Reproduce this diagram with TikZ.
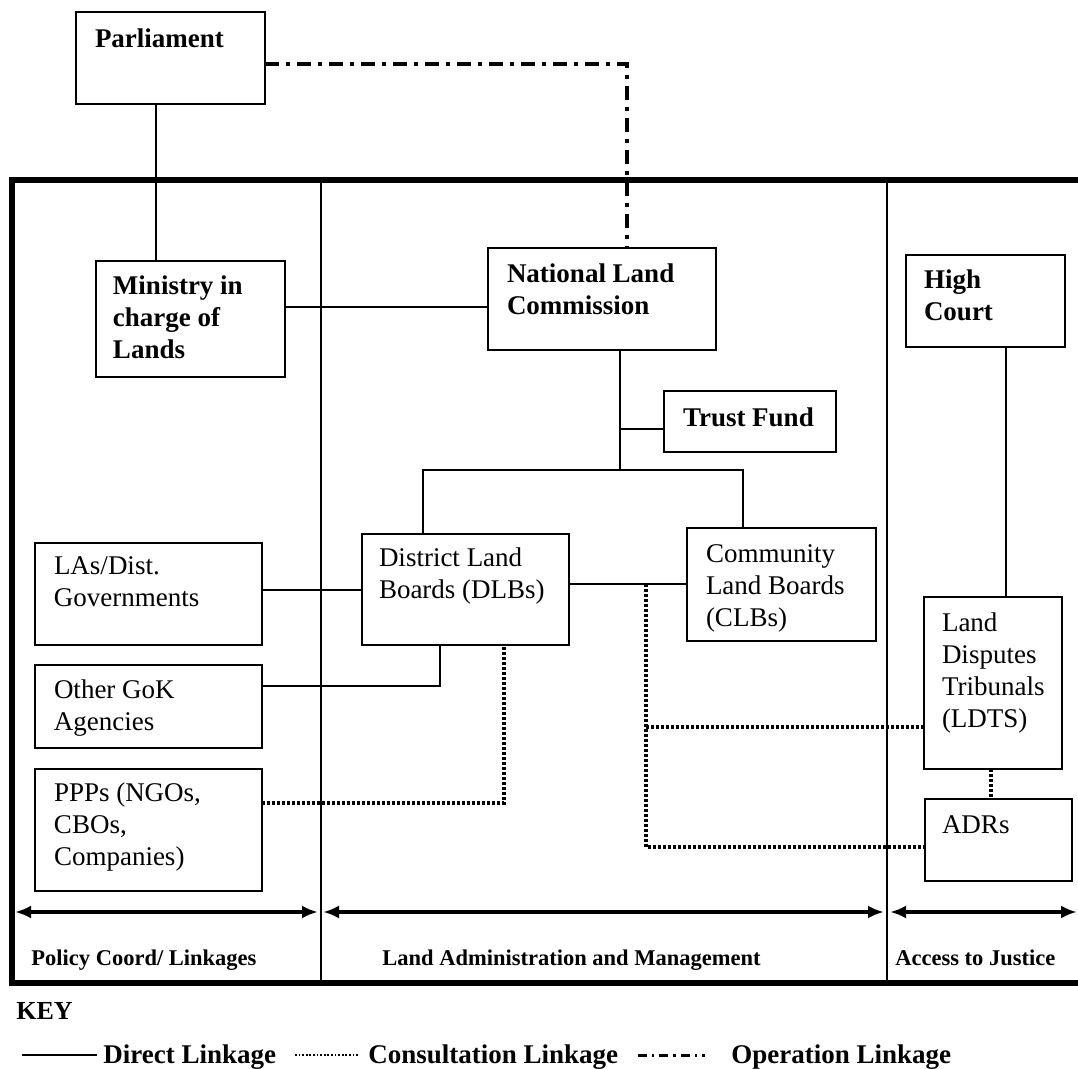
\documentclass[tikz,border=0pt]{standalone}
\usepackage{fontspec}
\setmainfont{Liberation Serif}
\usetikzlibrary{arrows.meta}
\newcommand{\bx}[5]{\parbox[c][#2pt][t]{#1pt}{\raggedright\leftskip=#3pt\rule{0pt}{#4pt}#5}}
\tikzset{
  box/.style={draw, line width=0.8pt, inner sep=0pt, outer sep=0pt, anchor=north west,
    font=\fontsize{13.5}{16}\selectfont},
  ln/.style={line width=0.75pt},
  frame/.style={line width=2.6pt},
  dotln/.style={line width=1.9pt, dash pattern=on 1.4pt off 1.1pt},
  opln/.style={line width=1.9pt, dash pattern=on 7pt off 3.5pt on 2pt off 3.5pt},
  arr/.style={line width=1.6pt, {Latex[length=8pt,width=6.5pt]}-{Latex[length=8pt,width=6.5pt]}},
  lab/.style={anchor=base west, inner sep=0pt, font=\fontsize{11.25}{13}\selectfont\bfseries},
  keytxt/.style={anchor=base west, inner sep=0pt, font=\fontsize{13.5}{16}\selectfont\bfseries},
}
\begin{document}
\begin{tikzpicture}[x=0.5pt,y=-0.5pt]
\clip (0,0) rectangle (1078,1069);
\fill[white] (0,0) rectangle (1078,1069);

% frame and column dividers
\draw[frame] (1095,180) -- (12,180) -- (12,983) -- (1095,983);
\draw[ln] (321,180) -- (321,983);
\draw[ln] (887,180) -- (887,983);

% boxes
\node[box] (parl) at (76,12)   {\bx{94.5}{46}{9.5}{18}{\textbf{Parliament}}};
\node[box] (min)  at (96,261)  {\bx{94.5}{58}{8.5}{17}{\textbf{Ministry in\\charge of\\Lands}}};
\node[box] (nlc)  at (488,248) {\bx{114}{51}{9.5}{17.5}{\textbf{National Land\\Commission}}};
\node[box] (tf)   at (664,391) {\bx{86}{30.5}{9.5}{18}{\textbf{Trust Fund}}};
\node[box] (hc)   at (906,255) {\bx{79.5}{46}{9}{17}{\textbf{High\\Court}}};
\node[box] (las)  at (35,543)  {\bx{113.5}{51}{9.5}{16}{LAs/Dist.\\Governments}};
\node[box] (gok)  at (35,665)  {\bx{113.5}{41.5}{9.5}{17}{Other GoK\\Agencies}};
\node[box] (ppp)  at (35,769)  {\bx{113.5}{61}{9.5}{16.5}{PPPs (NGOs,\\CBOs,\\Companies)}};
\node[box] (dlb)  at (362,534) {\bx{103.5}{55.5}{8.5}{16.5}{District Land\\Boards (DLBs)}};
\node[box] (clb)  at (687,528) {\bx{94.5}{56.5}{9.5}{17.5}{Community\\Land Boards\\(CLBs)}};
\node[box] (ldts) at (924,597) {\bx{69}{86}{9}{17.5}{Land\\Disputes\\Tribunals\\(LDTS)}};
\node[box] (adr)  at (925,799) {\bx{73.5}{41}{8.5}{17}{ADRs}};

% junction coordinates
\coordinate (jtop) at (620,470);
\coordinate (jtf)  at (620,429);
\coordinate (jdot) at (646,584);

% direct linkages
\draw[ln] (parl.south -| 156,0) -- (min.north -| 156,0);
\draw[ln] (min.east |- 0,307) -- (nlc.west |- 0,307);
\draw[ln] (nlc.south -| jtop) -- (jtop);
\draw[ln] (tf.west |- jtf) -- (jtf);
\draw[ln] (dlb.north -| 423,0) |- (jtop) -| (clb.north -| 743,0);
\draw[ln] (las.east |- 0,590) -- (dlb.west |- 0,590);
\draw[ln] (gok.east |- 0,686) -| (dlb.south -| 440,0);
\draw[ln] (dlb.east |- jdot) -- (clb.west |- jdot);
\draw[ln] (hc.south -| 1006,0) -- (ldts.north -| 1006,0);

% operation linkage
\draw[opln] (parl.east |- 0,64) -| (nlc.north -| 627,0);

% consultation linkages
\draw[dotln] (ppp.east |- 0,803) -| (dlb.south -| 504,0);
\draw[dotln] (jdot) |- (adr.west |- 0,847);
\draw[dotln] (jdot |- 0,727) -- (ldts.west |- 0,727);
\draw[dotln] (ldts.south -| 991,0) -- (adr.north -| 991,0);

% column arrows
\coordinate (a1) at (15,912);  \coordinate (a2) at (318,912);
\coordinate (b1) at (323,912); \coordinate (b2) at (884,912);
\coordinate (c1) at (890,912); \coordinate (c2) at (1077,912);
\draw[arr] (a1) -- (a2);
\draw[arr] (b1) -- (b2);
\draw[arr] (c1) -- (c2);

% column labels
\node[lab] (l1) at (31,965)  {Policy Coord/ Linkages};
\node[lab] (l2) at (382,965) {Land Administration and Management};
\node[lab] (l3) at (895,965) {Access to Justice};

% key
\node[anchor=base west, inner sep=0pt, font=\fontsize{13}{15}\selectfont\bfseries] (key) at (16,1020) {KEY};
\draw[line width=1.2pt] (22,1055) -- (97,1055);
\node[keytxt] (k1) at (103,1063) {Direct Linkage};
\draw[line width=1.2pt, dash pattern=on 0.9pt off 0.9pt] (295,1055) -- (358,1055);
\node[keytxt] (k2) at (368,1063) {Consultation Linkage};
\draw[line width=1.5pt, dash pattern=on 4.5pt off 2.5pt on 1.2pt off 2.5pt] (638,1055) -- (705,1055);
\node[keytxt] (k3) at (731,1063) {Operation Linkage};
\end{tikzpicture}
\end{document}
